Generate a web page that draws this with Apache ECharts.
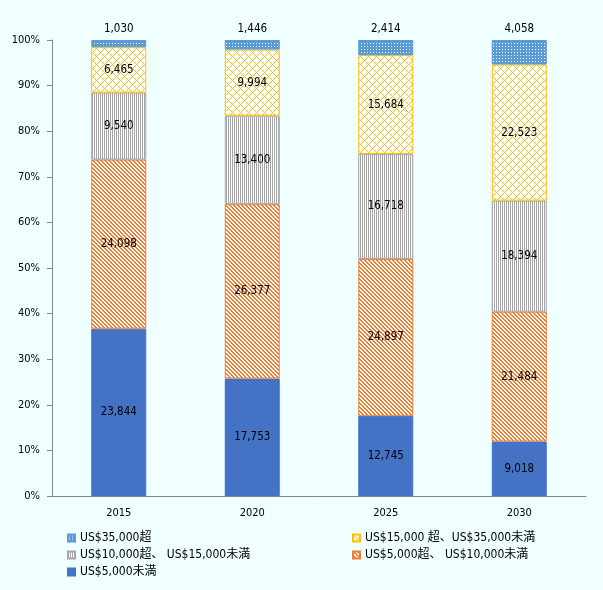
<!DOCTYPE html>
<html>
<head>
<meta charset="utf-8">
<script src="https://cdn.jsdelivr.net/npm/echarts@6/dist/echarts.min.js"></script>
<style>
  html, body { margin: 0; padding: 0; background: #F0FFFF; }
  #chart { width: 603px; height: 590px; }
</style>
</head>
<body>
<div id="chart"></div>
<script>
const years = ['2015', '2020', '2025', '2030'];
const under5k = [23844, 17753, 12745, 9018];
const from5kTo10k = [24098, 26377, 24897, 21484];
const from10kTo15k = [9540, 13400, 16718, 18394];
const from15kTo35k = [6465, 9994, 15684, 22523];
const over35k = [1030, 1446, 2414, 4058];

const names = [
  'US$5,000未満',
  'US$5,000超、 US$10,000未満',
  'US$10,000超、 US$15,000未満',
  'US$15,000 超、US$35,000未満',
  'US$35,000超'
];

const font = '"DejaVu Sans Condensed", "DejaVu Sans", "Noto Sans CJK JP", sans-serif';

// small repeating tiles that imitate the Excel fill patterns
function tile(w, h, bg, fg, test) {
  const c = document.createElement('canvas');
  c.width = w;
  c.height = h;
  const ctx = c.getContext('2d');
  ctx.fillStyle = bg;
  ctx.fillRect(0, 0, w, h);
  ctx.fillStyle = fg;
  for (let y = 0; y < h; y++) {
    for (let x = 0; x < w; x++) {
      if (test(x, y)) ctx.fillRect(x, y, 1, 1);
    }
  }
  return { image: c, repeat: 'repeat' };
}

const fills = [
  '#4472C4',
  tile(4, 4, '#ffffff', '#ED7D31', (x, y) => ((x - y + 8) % 4) < 2),
  tile(2, 1, '#ffffff', '#A5A5A5', (x) => x === 0),
  tile(8, 8, '#ffffff', '#FFC000', (x, y) => (x + y) % 8 === 0 || (x - y + 8) % 8 === 0),
  tile(3, 3, '#5B9BD5', '#ffffff', (x, y) => x === 1 && y === 1)
];
const borders = ['#4472C4', '#ED7D31', '#A5A5A5', '#FFC000', '#5B9BD5'];

const raw = [under5k, from5kTo10k, from10kTo15k, from15kTo35k, over35k];
const totals = years.map((y, i) => raw.reduce((s, arr) => s + arr[i], 0));

const series = raw.map(function (arr, k) {
  return {
    name: names[k],
    type: 'bar',
    stack: 'total',
    barWidth: 55,
    itemStyle: {
      color: fills[k],
      borderColor: borders[k],
      borderWidth: 1
    },
    label: {
      show: true,
      position: k === 4 ? 'top' : 'inside',
      distance: 5,
      color: '#000',
      fontFamily: font,
      fontSize: 11.5,
      formatter: function (p) {
        return arr[p.dataIndex].toLocaleString('en-US');
      }
    },
    emphasis: { disabled: true },
    data: arr.map((v, i) => v / totals[i] * 100)
  };
});

const legendText = { fontFamily: font, fontSize: 12, color: '#000', lineHeight: 14 };

const chart = echarts.init(document.getElementById('chart'));
chart.setOption({
  backgroundColor: '#F0FFFF',
  animation: false,
  grid: { left: 52, right: 17, top: 40, bottom: 94 },
  legend: [
    {
      orient: 'vertical',
      left: 62,
      top: 526,
      itemWidth: 7,
      itemHeight: 7,
      itemGap: 3,
      icon: 'rect',
      textStyle: legendText,
      data: [names[4], names[2], names[0]]
    },
    {
      orient: 'vertical',
      left: 347,
      top: 526,
      itemWidth: 7,
      itemHeight: 7,
      itemGap: 3,
      icon: 'rect',
      textStyle: legendText,
      data: [names[3], names[1]]
    }
  ],
  xAxis: {
    type: 'category',
    data: years,
    axisLine: { lineStyle: { color: '#868686' } },
    axisTick: { length: 5, lineStyle: { color: '#868686' } },
    axisLabel: { color: '#000', fontFamily: font, fontSize: 11, margin: 12 }
  },
  yAxis: {
    type: 'value',
    min: 0,
    max: 100,
    interval: 10,
    splitLine: { show: false },
    axisLine: { show: true, lineStyle: { color: '#868686' } },
    axisTick: { show: true, length: 5, lineStyle: { color: '#868686' } },
    axisLabel: { color: '#000', fontFamily: font, fontSize: 11, margin: 12, formatter: '{value}%' }
  },
  series: series
});
</script>
</body>
</html>
